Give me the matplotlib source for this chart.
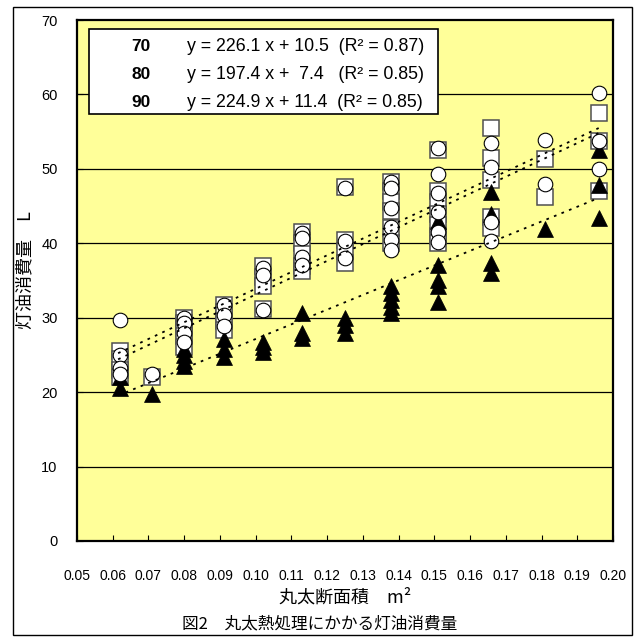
import matplotlib
matplotlib.use("Agg")
from matplotlib import pyplot as plt
from matplotlib.patches import Rectangle

plt.rcParams['font.family'] = ['Liberation Sans', 'Noto Sans CJK JP', 'DejaVu Sans']

# 丸太断面積 m2 と 灯油消費量 L
x70 = [0.062]*4 + [0.071] + [0.080]*5 + [0.091]*4 + [0.102]*4 + [0.113]*5 + [0.125]*4 \
    + [0.138]*6 + [0.151]*7 + [0.166]*5 + [0.181]*2 + [0.196]*3
y70 = [25.5, 24.5, 23.0, 22.0,
       22.0,
       30.0, 29.3, 28.5, 27.5, 26.0,
       31.7, 30.8, 29.5, 28.3,
       37.0, 35.5, 34.2, 31.2,
       41.5, 40.0, 38.5, 37.0, 36.3,
       47.5, 40.5, 39.0, 37.3,
       48.2, 47.0, 45.5, 44.3, 42.0, 40.0,
       52.5, 47.0, 45.5, 44.0, 42.5, 41.0, 40.0,
       55.5, 51.5, 48.5, 43.5, 42.0,
       51.3, 46.2,
       57.5, 53.8, 47.0]

x80 = [0.062]*2 + [0.071] + [0.080]*4 + [0.091]*3 + [0.102]*3 + [0.113]*3 + [0.125]*3 \
    + [0.138]*5 + [0.151]*5 + [0.166]*4 + [0.181] + [0.196]*3
y80 = [22.0, 20.5,
       19.7,
       25.8, 25.0, 24.2, 23.5,
       27.2, 25.8, 24.7,
       26.8, 26.0, 25.4,
       30.6, 27.9, 27.3,
       30.0, 29.0, 28.0,
       34.2, 33.3, 32.4, 31.5, 30.6,
       43.0, 37.1, 35.0, 34.2, 32.1,
       46.9, 44.0, 37.4, 36.0,
       41.9,
       52.5, 47.8, 43.4]

x90 = [0.062]*4 + [0.071] + [0.080]*4 + [0.091]*3 + [0.102]*3 + [0.113]*4 + [0.125]*3 \
    + [0.138]*6 + [0.151]*6 + [0.166]*4 + [0.181]*2 + [0.196]*3
y90 = [29.7, 25.0, 23.3, 22.5,
       22.4,
       30.0, 29.3, 28.0, 26.7,
       31.7, 30.4, 28.9,
       36.7, 35.8, 31.0,
       41.4, 40.7, 38.2, 37.1,
       47.4, 40.3, 38.0,
       48.2, 47.4, 44.7, 42.2, 40.5, 39.1,
       52.8, 49.3, 46.8, 44.2, 41.5, 40.2,
       53.5, 50.3, 42.9, 40.3,
       53.9, 48.0,
       60.2, 53.8, 50.0]

# 回帰式 y = a x + b
series = ['70', '80', '90']
slopes = [226.1, 197.4, 224.9]
intercepts = [10.5, 7.4, 11.4]
r2 = [0.87, 0.85, 0.85]
fit_range = [0.0615, 0.196]

jp = ['Noto Sans CJK JP', 'DejaVu Sans']

fig = plt.figure(figsize=(6.37, 6.39), dpi=100)
ax = fig.add_axes([0.1209, 0.1534, 0.8414, 0.8153])
ax.set_facecolor('#FFFF99')

ax.plot(x70, y70, 's', ms=11, mfc='white', mec='#505050', mew=1.1, zorder=3)
ax.plot(x80, y80, '^', ms=11.5, mfc='black', mec='black', mew=0.5, zorder=4)
ax.plot(x90, y90, 'o', ms=10.5, mfc='white', mec='black', mew=0.8, zorder=5)

for a, b in zip(slopes, intercepts):
    ax.plot(fit_range, [a*fit_range[0] + b, a*fit_range[1] + b], color='black',
            lw=1.3, ls=(0, (1.5, 3)), zorder=6)

ax.set_xlim(0.05, 0.20)
ax.set_ylim(0, 70)
ax.set_xticks([0.05 + 0.01*i for i in range(16)])
ax.set_xticklabels(['%.2f' % (0.05 + 0.01*i) for i in range(16)], fontsize=10)
ax.set_yticks(range(0, 80, 10))
ax.set_yticklabels([str(v) for v in range(0, 80, 10)], fontsize=10.5)
ax.tick_params(axis='x', direction='in', length=4, pad=20)
ax.tick_params(axis='y', direction='in', length=4, pad=14)
for v in range(10, 70, 10):
    ax.axhline(v, color='black', lw=0.9, zorder=1)
for s in ax.spines.values():
    s.set_linewidth(1.6)

ax.set_xlabel('丸太断面積　m²', fontsize=13, family=jp, labelpad=4)
ax.set_ylabel('灯油消費量　L', fontsize=13, family=jp)
ax.yaxis.set_label_coords(-0.080, 0.52)

# 回帰式の枠
ax.add_patch(Rectangle((0.022, 0.820), 0.652, 0.163, transform=ax.transAxes,
                       facecolor='white', edgecolor='black', lw=1.2, zorder=7))
eqs = ['y = 226.1 x + 10.5  (R² = 0.87)',
       'y = 197.4 x +  7.4   (R² = 0.85)',
       'y = 224.9 x + 11.4  (R² = 0.85)']
rows = [0.950, 0.895, 0.842]
for name, eq, yy in zip(series, eqs, rows):
    ax.text(0.102, yy, name, transform=ax.transAxes, fontsize=12.5, fontweight='bold',
            va='center', zorder=8)
    ax.text(0.205, yy, eq, transform=ax.transAxes, fontsize=12.8, va='center', zorder=8)

fig.text(0.502, 0.016, '図2　丸太熱処理にかかる灯油消費量', fontsize=12, ha='center',
         family=jp)

fig.patches.append(Rectangle((0.020, 0.006), 0.972, 0.983, transform=fig.transFigure,
                             fill=False, edgecolor='black', lw=1.0))

fig.savefig('out.png', dpi=100)
